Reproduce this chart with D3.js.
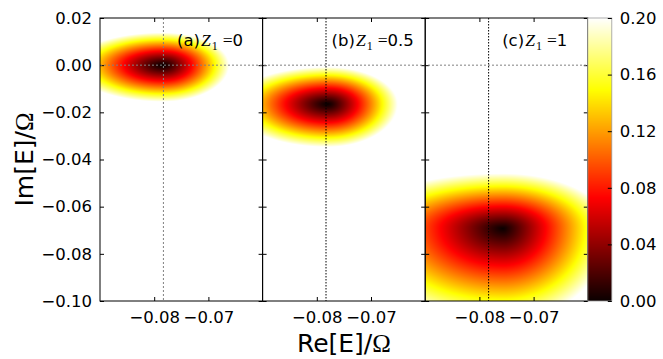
<!DOCTYPE html>
<meta charset="utf-8">
<style>
body { margin: 0; background: #fff; }
text { font-family: "DejaVu Sans", sans-serif; fill: #000; }
.serif { font-family: "Liberation Serif", "DejaVu Serif", serif; }
</style>
<svg id="chart" width="663" height="359"></svg>
<script src="https://cdn.jsdelivr.net/npm/d3@7"></script>
<script>
// values
const panelTags = ["(a)", "(b)", "(c)"];
const z1Labels = ["0", "0.5", "1"];
const centerRe = [-0.0784, -0.0780, -0.0757];
const centerIm = [0.0000, -0.0165, -0.0692];
// distance from the minimum to the 0.20 contour, per direction
const reachLeft = [0.0167, 0.0178, 0.0285];
const reachRight = [0.0122, 0.0129, 0.0198];
const reachUp = [0.0138, 0.0157, 0.0233];
const reachDown = [0.0155, 0.0182, 0.0395];
const falloff = [1.2, 1.2, 1.1];
const refRe = -0.0783, refIm = 0.0;
const reDomain = [-0.09, -0.06];
const imDomain = [-0.10, 0.02];
const xTicks = [-0.08, -0.07];
const yTicks = [-0.10, -0.08, -0.06, -0.04, -0.02, 0.00, 0.02];
const cbTicks = [0.00, 0.04, 0.08, 0.12, 0.16, 0.20];
const vmax = 0.2;

// layout
const leftX = 100, topY = 18, pw = 162.6, ph = 283;
const cbW = 24;
const titleOffset = [77, 69, 77];
const fs = 16.5;

const svg = d3.select("#chart");

const y = d3.scaleLinear().domain(imDomain).range([topY + ph, topY]);

function hot(t) {
  t = Math.max(0, Math.min(1, t));
  const a = 0.365079, b = 0.746032;
  const r = t < a ? 0.0416 + (1 - 0.0416) * t / a : 1;
  const g = t < a ? 0 : t < b ? (t - a) / (b - a) : 1;
  const bl = t < b ? 0 : (t - b) / (1 - b);
  return [r * 255, g * 255, bl * 255];
}

function field(i, re, im) {
  const dx = re - centerRe[i], dy = im - centerIm[i];
  const ax = dx < 0 ? reachLeft[i] : reachRight[i];
  const ay = dy > 0 ? reachUp[i] : reachDown[i];
  const r = Math.hypot(dx / ax, dy / ay);
  return vmax * Math.pow(r, falloff[i]);
}

const fmt = d3.format(".2f");

panelTags.forEach(function(tag, i) {
  const x0 = leftX + i * pw;
  const x = d3.scaleLinear().domain(reDomain).range([x0, x0 + pw]);

  // heat map
  const w = Math.round(pw), h = ph;
  const cv = document.createElement("canvas");
  cv.width = w; cv.height = h;
  const ctx = cv.getContext("2d");
  const img = ctx.createImageData(w, h);
  for (let py = 0; py < h; py++) {
    const im = y.invert(topY + py + 0.5);
    for (let px = 0; px < w; px++) {
      const re = x.invert(x0 + (px + 0.5) * pw / w);
      const c = hot(field(i, re, im) / vmax);
      const k = (py * w + px) * 4;
      img.data[k] = c[0]; img.data[k + 1] = c[1]; img.data[k + 2] = c[2]; img.data[k + 3] = 255;
    }
  }
  ctx.putImageData(img, 0, 0);
  svg.append("image")
    .attr("href", cv.toDataURL())
    .attr("x", x0).attr("y", topY)
    .attr("width", pw).attr("height", ph)
    .attr("preserveAspectRatio", "none");

  // reference lines
  svg.append("line")
    .attr("x1", x(refRe)).attr("x2", x(refRe))
    .attr("y1", topY).attr("y2", topY + ph)
    .attr("stroke", i === 0 ? "#808080" : "#000")
    .attr("stroke-width", 1)
    .attr("stroke-dasharray", i === 0 ? "2,2" : "1.5,1.5");

  // axes, ticks inward
  svg.append("g").attr("transform", "translate(0," + (topY + ph) + ")")
    .call(d3.axisBottom(x).tickValues(xTicks).tickSizeInner(-4).tickSizeOuter(0).tickPadding(10).tickFormat(fmt));
  svg.append("g").attr("transform", "translate(0," + topY + ")")
    .call(d3.axisTop(x).tickValues(xTicks).tickSizeInner(-4).tickSizeOuter(0).tickFormat(""));
  svg.append("g").attr("transform", "translate(" + x0 + ",0)")
    .call(d3.axisLeft(y).tickValues(yTicks).tickSizeInner(-4).tickSizeOuter(0).tickPadding(8)
      .tickFormat(i === 0 ? fmt : ""));
  svg.append("g").attr("transform", "translate(" + (x0 + pw) + ",0)")
    .call(d3.axisRight(y).tickValues(yTicks).tickSizeInner(-4).tickSizeOuter(0).tickFormat(""));

  // title
  const t = svg.append("text").attr("x", x0 + titleOffset[i]).attr("y", 46).style("font-size", fs + "px");
  t.append("tspan").text(tag);
  t.append("tspan").attr("class", "serif").style("font-style", "italic").style("font-size", "17.5px").attr("dx", 1).text("Z");
  t.append("tspan").attr("class", "serif").style("font-size", "12px").attr("dy", 4).attr("dx", 1).text("1");
  t.append("tspan").attr("class", "serif").style("font-size", "17.5px").attr("dy", -4).attr("dx", 5).text("=");
  t.append("tspan").text(z1Labels[i]);
});

// frames and axis styling
svg.selectAll(".domain").remove();
svg.selectAll(".tick line").attr("stroke", "#000").attr("stroke-width", 1);
svg.selectAll(".tick text").style("font-size", fs + "px").style("font-family", "DejaVu Sans").attr("fill", "#000");

svg.append("line")
  .attr("x1", leftX).attr("x2", leftX + 3 * pw)
  .attr("y1", y(refIm)).attr("y2", y(refIm))
  .attr("stroke", "#808080").attr("stroke-width", 1).attr("stroke-dasharray", "2,2");

panelTags.forEach(function(tag, i) {
  svg.append("rect")
    .attr("x", leftX + i * pw).attr("y", topY)
    .attr("width", pw).attr("height", ph)
    .attr("fill", "none").attr("stroke", "#000").attr("stroke-width", 1);
});

// colour bar
const cbX = leftX + 3 * pw;
const cy = d3.scaleLinear().domain([0, vmax]).range([topY + ph, topY]);
const bar = document.createElement("canvas");
bar.width = 1; bar.height = ph;
const bctx = bar.getContext("2d");
const bimg = bctx.createImageData(1, ph);
for (let py = 0; py < ph; py++) {
  const c = hot(cy.invert(topY + py + 0.5) / vmax);
  bimg.data[py * 4] = c[0]; bimg.data[py * 4 + 1] = c[1]; bimg.data[py * 4 + 2] = c[2]; bimg.data[py * 4 + 3] = 255;
}
bctx.putImageData(bimg, 0, 0);
svg.append("image")
  .attr("href", bar.toDataURL())
  .attr("x", cbX).attr("y", topY).attr("width", cbW).attr("height", ph)
  .attr("preserveAspectRatio", "none");
svg.append("rect")
  .attr("x", cbX).attr("y", topY).attr("width", cbW).attr("height", ph)
  .attr("fill", "none").attr("stroke", "#999").attr("stroke-width", 0.8);
const cbAxis = svg.append("g").attr("transform", "translate(" + (cbX + cbW) + ",0)")
  .call(d3.axisRight(cy).tickValues(cbTicks).tickSizeInner(-4).tickSizeOuter(0).tickPadding(8).tickFormat(fmt));
cbAxis.select(".domain").remove();
cbAxis.selectAll(".tick line").attr("stroke", "#000");
cbAxis.selectAll(".tick text").style("font-size", fs + "px").style("font-family", "DejaVu Sans").attr("fill", "#000");

// axis labels
const xl = svg.append("text").attr("x", leftX + 1.5 * pw).attr("y", 352)
  .attr("text-anchor", "middle").style("font-size", "25px");
xl.append("tspan").text("Re[E]/");
xl.append("tspan").attr("class", "serif").text("Ω");

const yl = svg.append("text").attr("transform", "translate(33," + (topY + ph / 2) + ") rotate(-90)")
  .attr("text-anchor", "middle").style("font-size", "25px");
yl.append("tspan").text("Im[E]/");
yl.append("tspan").attr("class", "serif").text("Ω");
</script>
